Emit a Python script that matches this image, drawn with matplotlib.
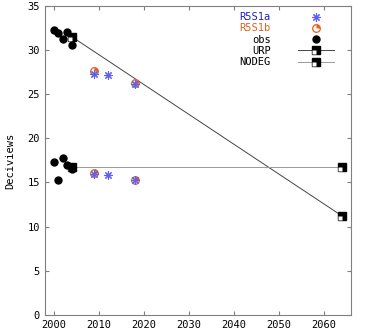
import numpy as np
import matplotlib
matplotlib.use("Agg")
import matplotlib.pyplot as plt
from matplotlib.path import Path

# observed values (worst / best days)
obs_years = [2000, 2001, 2002, 2003, 2004]
obs_worst = [32.3, 31.9, 31.2, 32.0, 30.6]
obs_best = [17.3, 15.3, 17.8, 17.0, 16.5]

# model projections
r5s1a_years = [2009, 2012, 2018]
r5s1a_worst = [27.3, 27.2, 26.2]
r5s1a_best = [16.0, 15.9, 15.3]

r5s1b_years = [2009, 2018]
r5s1b_worst = [27.6, 26.3]
r5s1b_best = [16.1, 15.3]

# uniform rate of progress / no degradation
urp_years = [2004, 2064]
urp_worst = [31.5, 11.2]
nodeg_years = [2004, 2064]
nodeg_best = [16.7, 16.7]

plt.rcParams['font.family'] = ['DejaVu Sans Mono']

fig = plt.figure(figsize=(3.65, 3.29), dpi=100)
ax = fig.add_axes([0.123, 0.043, 0.839, 0.939])

# half-filled square marker (white lower-left quarter)
quarter_sq = Path([(-1, -1), (0, -1), (0, 0), (-1, 0), (-1, -1)],
                  [Path.MOVETO, Path.LINETO, Path.LINETO, Path.LINETO, Path.CLOSEPOLY])
# pie wedge for R5S1b
ang = np.linspace(0, np.pi / 2, 12)
wedge = Path(np.vstack([[0, 0], np.column_stack([np.cos(ang), np.sin(ang)]), [0, 0]]))

line_kw = dict(marker='s', ms=5.5, mfc='black', mec='black')
ax.plot(urp_years, urp_worst, color='#444444', lw=0.7, label='URP', **line_kw)
ax.plot(nodeg_years, nodeg_best, color='#999999', lw=0.7, label='NODEG', **line_kw)
for xs, ys in [(urp_years, urp_worst), (nodeg_years, nodeg_best)]:
    ax.plot(xs, ys, ls='none', marker=quarter_sq, ms=5.5, mfc='white', mec='none')

ob = dict(ls='none', marker='o', ms=5, color='black')
ax.plot(obs_years, obs_worst, label='obs', **ob)
ax.plot(obs_years, obs_best, **ob)

orange = '#e8601c'
for ys in [r5s1b_worst, r5s1b_best]:
    ax.plot(r5s1b_years, ys, ls='none', marker='o', ms=5.5, mfc='white', mec=orange, mew=0.9)
    ax.plot(r5s1b_years, ys, ls='none', marker=wedge, ms=5.5, mfc=orange, mec='none')

blue = '#2020c0'
for ys in [r5s1a_worst, r5s1a_best]:
    ax.plot(r5s1a_years, ys, ls='none', marker=(8, 2, 0), ms=6, color='#6060e8', mew=0.8)

# legend proxies
h_a, = ax.plot([], [], ls='none', marker=(8, 2, 0), ms=6, color='#6060e8', mew=0.8)
h_b1, = ax.plot([], [], ls='none', marker='o', ms=5.5, mfc='white', mec=orange, mew=0.9)
h_b2, = ax.plot([], [], ls='none', marker=wedge, ms=5.5, mfc=orange, mec='none')
h_o, = ax.plot([], [], **ob)
h_u1, = ax.plot([], [], color='#444444', lw=0.7, **line_kw)
h_u2, = ax.plot([], [], ls='none', marker=quarter_sq, ms=5.5, mfc='white', mec='none')
h_n1, = ax.plot([], [], color='#999999', lw=0.7, **line_kw)

leg = ax.legend([h_a, (h_b1, h_b2), h_o, (h_u1, h_u2), (h_n1, h_u2)],
                ['R5S1a', 'R5S1b', 'obs', 'URP', 'NODEG'],
                loc='upper right', bbox_to_anchor=(0.965, 1.0), frameon=False,
                markerfirst=False, fontsize=7.5, handlelength=3.5,
                labelspacing=0.12, borderaxespad=0.2, handletextpad=2.6)
for t, c in zip(leg.get_texts(), [blue, orange, 'black', 'black', 'black']):
    t.set_color(c)
    t.set_ha('right')

ax.set_xlim(1998, 2066)
ax.set_ylim(0, 35)
ax.set_xticks(range(2000, 2061, 10))
ax.set_yticks(range(0, 36, 5))
ax.tick_params(direction='in', top=True, right=True, length=3, color='#808080',
               labelsize=7.5)
for s in ax.spines.values():
    s.set_color('#808080')
ax.set_ylabel('Deciviews', fontsize=7.5, labelpad=9)

fig.savefig('out.png', dpi=100)
